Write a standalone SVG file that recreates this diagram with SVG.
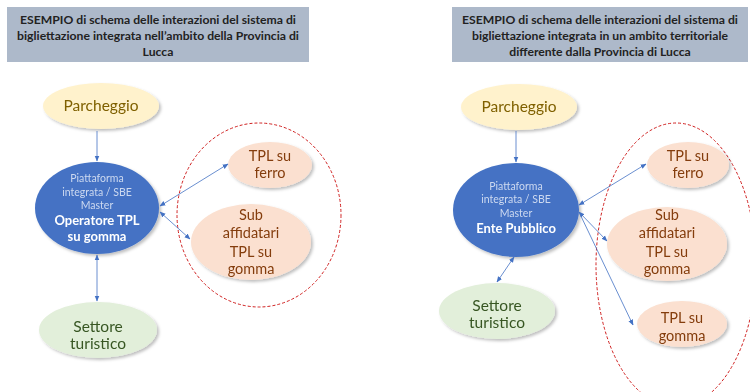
<svg xmlns="http://www.w3.org/2000/svg" width="750" height="392" viewBox="0 0 750 392">
<defs>
<style>
text{font-family:Lato,"Liberation Sans",sans-serif;text-anchor:middle}
.title{font-size:12.2px;font-weight:bold;fill:#222}
.tbox{fill:#adb9ca}
.park{fill:#fff2cc}
.parkt{font-size:15.5px;fill:#7f6000}
.core{fill:#4472c4}
.small{font-size:10.5px;fill:#cdd9f0}
.bold{font-size:13px;font-weight:bold;fill:#fff}
.peach{fill:#fbe0d0}
.peacht{font-size:14.5px;fill:#843c0c}
.green{fill:#e2efda}
.greent{font-size:15.5px;fill:#375623}
.dash{fill:none;stroke:#d02020;stroke-width:1;stroke-dasharray:3 2}
.con{stroke:#4472c4;stroke-width:0.8;fill:none}
</style>
<filter id="sh" x="-20%" y="-20%" width="150%" height="150%">
<feDropShadow dx="2" dy="2" stdDeviation="1.5" flood-color="#000" flood-opacity="0.25"/>
</filter>
<marker id="ah" viewBox="0 0 10 10" refX="9" refY="5" markerWidth="6" markerHeight="6" orient="auto-start-reverse" markerUnits="userSpaceOnUse">
<path d="M0,1 L10,5 L0,9 z" fill="#4472c4"/>
</marker>
</defs>

<!-- Left diagram -->
<g id="title-left">
<rect class="tbox" x="7" y="7" width="302" height="55"/>
<text class="title" x="158" y="24">ESEMPIO di schema delle interazioni del sistema di</text>
<text class="title" x="158" y="40">bigliettazione integrata nell’ambito della Provincia di</text>
<text class="title" x="158" y="56">Lucca</text>
</g>
<g id="group-left">
<ellipse class="dash" cx="259" cy="215" rx="82" ry="92"/>
</g>
<g id="parcheggio-left" filter="url(#sh)">
<ellipse class="park" cx="101" cy="106" rx="58" ry="23"/>
<text class="parkt" x="101" y="111">Parcheggio</text>
</g>
<g id="piattaforma-left" filter="url(#sh)">
<ellipse class="core" cx="97" cy="208" rx="62" ry="46"/>
<text class="small" x="97" y="182">Piattaforma</text>
<text class="small" x="97" y="196">integrata / SBE</text>
<text class="small" x="97" y="209">Master</text>
<text class="bold" x="97" y="225">Operatore TPL</text>
<text class="bold" x="97" y="241">su gomma</text>
</g>
<g id="ferro-left" filter="url(#sh)">
<ellipse class="peach" cx="270" cy="165" rx="42" ry="23"/>
<text class="peacht" x="270" y="161">TPL su</text>
<text class="peacht" x="270" y="178">ferro</text>
</g>
<g id="sub-left" filter="url(#sh)">
<ellipse class="peach" cx="251" cy="242" rx="60" ry="38"/>
<text class="peacht" x="251" y="220">Sub</text>
<text class="peacht" x="251" y="238">affidatari</text>
<text class="peacht" x="251" y="257">TPL su</text>
<text class="peacht" x="251" y="274">gomma</text>
</g>
<g id="settore-left" filter="url(#sh)">
<ellipse class="green" cx="98" cy="330" rx="59" ry="28"/>
<text class="greent" x="98" y="332">Settore</text>
<text class="greent" x="98" y="349">turistico</text>
</g>

<!-- Right diagram -->
<g id="title-right">
<rect class="tbox" x="452" y="7" width="296" height="55"/>
<text class="title" x="600" y="24">ESEMPIO di schema delle interazioni del sistema di</text>
<text class="title" x="600" y="40">bigliettazione integrata in un ambito territoriale</text>
<text class="title" x="600" y="56">differente dalla Provincia di Lucca</text>
</g>
<g id="group-right">
<ellipse class="dash" cx="676" cy="265" rx="80" ry="142"/>
</g>
<g id="parcheggio-right" filter="url(#sh)">
<ellipse class="park" cx="519" cy="107" rx="58" ry="23"/>
<text class="parkt" x="519" y="112">Parcheggio</text>
</g>
<g id="piattaforma-right" filter="url(#sh)">
<ellipse class="core" cx="516" cy="210" rx="63" ry="47"/>
<text class="small" x="516" y="190">Piattaforma</text>
<text class="small" x="516" y="203">integrata / SBE</text>
<text class="small" x="516" y="217">Master</text>
<text class="bold" x="516" y="233">Ente Pubblico</text>
</g>
<g id="ferro-right" filter="url(#sh)">
<ellipse class="peach" cx="688" cy="165" rx="41" ry="23"/>
<text class="peacht" x="688" y="161">TPL su</text>
<text class="peacht" x="688" y="178">ferro</text>
</g>
<g id="sub-right" filter="url(#sh)">
<ellipse class="peach" cx="667" cy="244" rx="60" ry="37"/>
<text class="peacht" x="667" y="220">Sub</text>
<text class="peacht" x="667" y="238">affidatari</text>
<text class="peacht" x="667" y="257">TPL su</text>
<text class="peacht" x="667" y="274">gomma</text>
</g>
<g id="gomma-right" filter="url(#sh)">
<ellipse class="peach" cx="682" cy="324" rx="45" ry="23"/>
<text class="peacht" x="682" y="323">TPL su</text>
<text class="peacht" x="682" y="341">gomma</text>
</g>
<g id="settore-right" filter="url(#sh)">
<ellipse class="green" cx="497" cy="311" rx="58" ry="28"/>
<text class="greent" x="497" y="311">Settore</text>
<text class="greent" x="497" y="328">turistico</text>
</g>

<g id="connectors">
<line class="con" x1="97" y1="131" x2="97" y2="161" marker-end="url(#ah)"/>
<line class="con" x1="97" y1="255" x2="97" y2="301" marker-start="url(#ah)" marker-end="url(#ah)"/>
<line class="con" x1="160" y1="206" x2="228" y2="164" marker-start="url(#ah)" marker-end="url(#ah)"/>
<line class="con" x1="160" y1="212" x2="190" y2="239" marker-start="url(#ah)" marker-end="url(#ah)"/>
<line class="con" x1="516" y1="131" x2="516" y2="162" marker-end="url(#ah)"/>
<line class="con" x1="514" y1="257" x2="497" y2="282" marker-start="url(#ah)" marker-end="url(#ah)"/>
<line class="con" x1="579" y1="205" x2="646" y2="164" marker-start="url(#ah)" marker-end="url(#ah)"/>
<line class="con" x1="579" y1="212" x2="607" y2="241" marker-start="url(#ah)" marker-end="url(#ah)"/>
<line class="con" x1="579" y1="212" x2="633" y2="325" marker-end="url(#ah)"/>
</g>
</svg>
